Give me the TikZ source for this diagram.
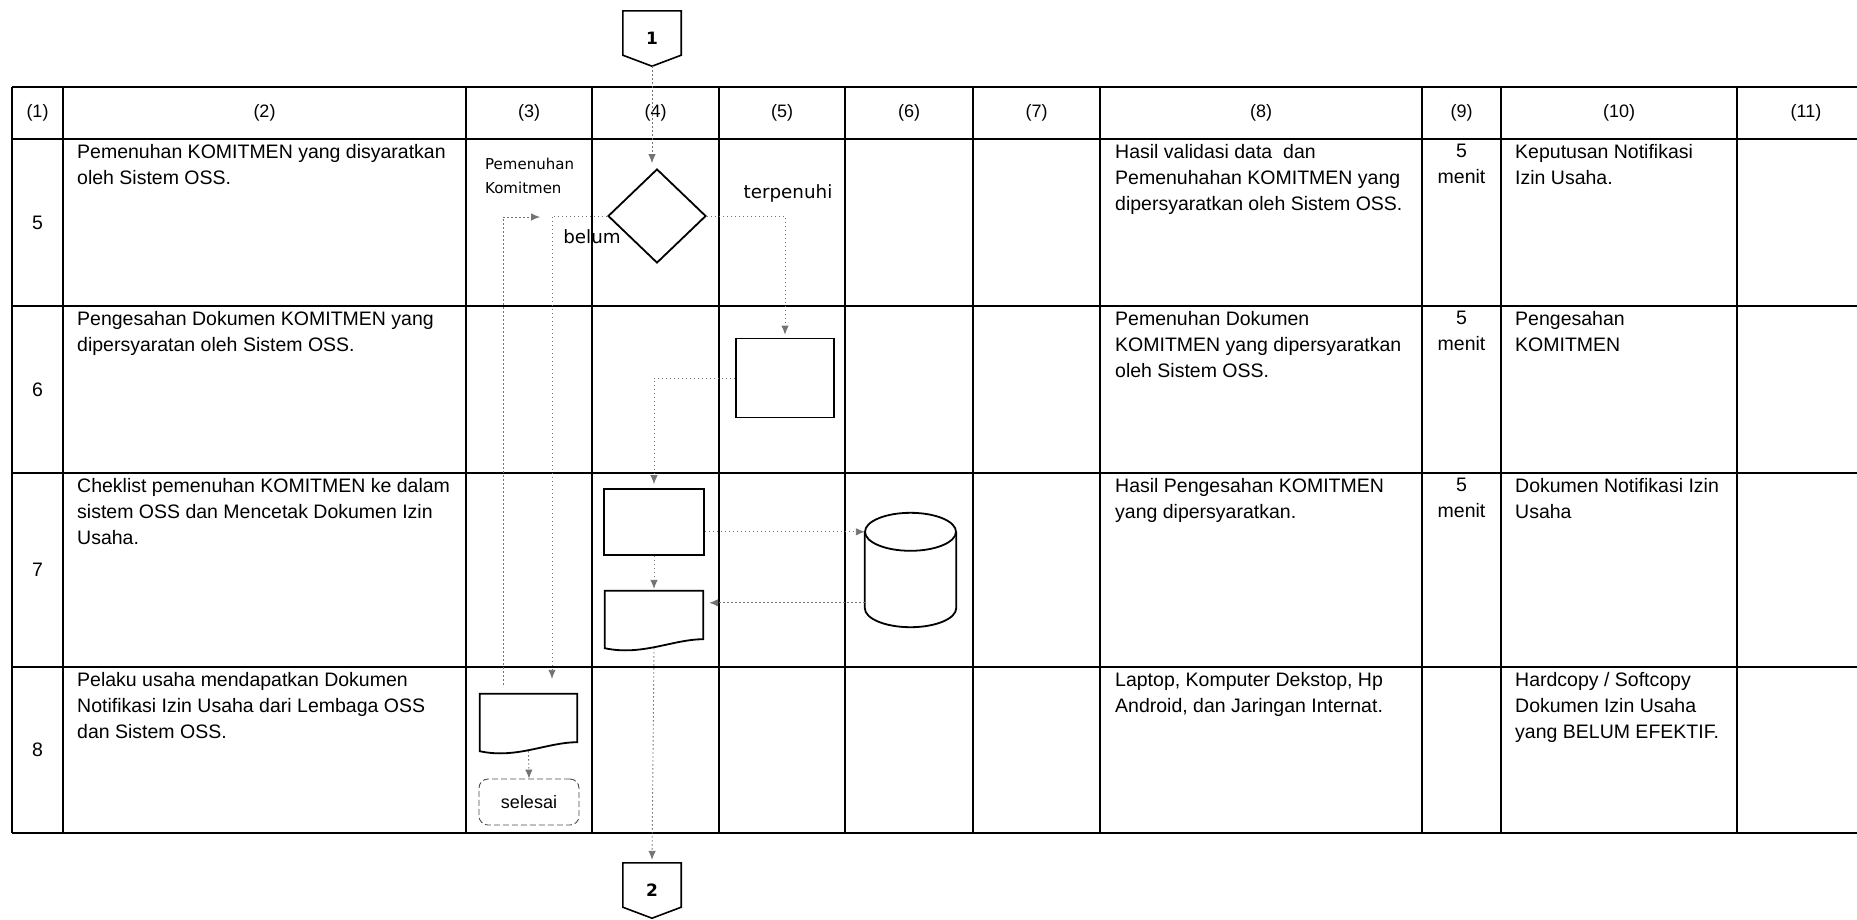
\documentclass[tikz,border=0pt]{standalone}
\usepackage{fontspec}
\setmainfont{Liberation Sans}
\newfontfamily\dvfont{DejaVu Sans}
\usetikzlibrary{arrows.meta,shapes.geometric}

\newcommand{\tabfont}{\fontsize{19.5}{26}\selectfont}
\newcommand{\docshape}[1]{%
  \draw[boxline] (#1.south west) -- (#1.north west) -- (#1.north east)
    -- ([yshift=9pt]#1.south east)
    .. controls ([xshift=-30pt,yshift=9pt]#1.south east) and ([xshift=-12pt,yshift=-8pt]#1.south)
    .. (#1.south west) -- cycle;}

\tikzset{
  tabrule/.style={line width=1.4pt},
  boxline/.style={line width=1.8pt},
  box/.style={draw, boxline, inner sep=0pt},
  slot/.style={inner sep=0pt},
  offpage/.style={slot, minimum width=58pt, minimum height=55pt,
    font=\dvfont\bfseries\fontsize{17}{17}\selectfont},
  flow/.style={draw=black!55, line width=0.9pt, dash pattern=on 1.5pt off 2.5pt,
    -{Latex[length=9pt,width=7.5pt]}},
  celltext/.style={anchor=north west, align=left, inner sep=0pt, font=\tabfont,
    execute at begin node=\strut},
  menit/.style={anchor=north, align=center, inner sep=0pt, font=\tabfont,
    execute at begin node=\strut},
  flowlabel/.style={font=\dvfont\fontsize{18.3}{20}\selectfont},
}

\begin{document}
\begin{tikzpicture}[x=1pt,y=-1pt]
\useasboundingbox (0,0) rectangle (1857,919);
% Table grid
\foreach \y in {87,139,306,473,667,833}
  \draw[tabrule] (12,\y) -- (1857,\y);
\foreach \x in {12,63,466,592,719,845,973,1100,1422,1501,1737}
  \draw[tabrule] (\x,87) -- (\x,833);
% Column numbers
\foreach \x/\n in {37.5/1,264.5/2,529/3,655.5/4,782/5,909/6,1036.5/7,1261/8,1461.5/9,1619/10,1806/11}
  \node[font=\fontsize{18}{20}\selectfont] (h\n) at (\x,113) {(\n)};
% Step numbers
\foreach \y/\n in {222.5/5,389.5/6,570/7,750/8}
  \node[font=\tabfont] (no\n) at (37.5,\y) {\n};

% Activities (2)
\node[celltext] (act5) at (77,144) {Pemenuhan KOMITMEN yang disyaratkan\\oleh Sistem OSS.};
\node[celltext] (act6) at (77,311) {Pengesahan Dokumen KOMITMEN yang\\dipersyaratan oleh Sistem OSS.};
\node[celltext] (act7) at (77,478) {Cheklist pemenuhan KOMITMEN ke dalam\\sistem OSS dan Mencetak Dokumen Izin\\Usaha.};
\node[celltext] (act8) at (77,672) {Pelaku usaha mendapatkan Dokumen\\Notifikasi Izin Usaha dari Lembaga OSS\\dan Sistem OSS.};

% Requirements (8)
\node[celltext] (req5) at (1115,144) {Hasil validasi data\ \ dan\\Pemenuhahan KOMITMEN yang\\dipersyaratkan oleh Sistem OSS.};
\node[celltext] (req6) at (1115,311) {Pemenuhan Dokumen\\KOMITMEN yang dipersyaratkan\\oleh Sistem OSS.};
\node[celltext] (req7) at (1115,478) {Hasil Pengesahan KOMITMEN\\yang dipersyaratkan.};
\node[celltext] (req8) at (1115,672) {Laptop, Komputer Dekstop, Hp\\Android, dan Jaringan Internat.};

% Time (9)
\foreach \y/\r in {144/5,311/6,478/7}
  \node[menit] (time\r) at (1461.5,\y) {5\\menit};

% Output (10)
\node[celltext] (out5) at (1515,144) {Keputusan Notifikasi\\Izin Usaha.};
\node[celltext] (out6) at (1515,311) {Pengesahan\\KOMITMEN};
\node[celltext] (out7) at (1515,478) {Dokumen Notifikasi Izin\\Usaha};
\node[celltext] (out8) at (1515,672) {Hardcopy / Softcopy\\Dokumen Izin Usaha\\yang BELUM EFEKTIF.};

% Flowchart symbols
\node[offpage] (off1) at (652,38.5) {1};
\node[offpage] (off2) at (652,890.5) {2};
\node[box, diamond, minimum width=98pt, minimum height=94pt] (cek) at (657,216) {};
\node[box, minimum width=98pt, minimum height=79pt] (sah) at (785,378) {};
\node[box, minimum width=100pt, minimum height=66pt] (ceklist) at (654,522) {};
\node[slot, minimum width=98pt, minimum height=57pt] (cetak) at (654,619.5) {};
\node[slot, minimum width=97pt, minimum height=57pt] (terima) at (528.5,722.5) {};
\node[draw=black!70, line width=0.9pt, dash pattern=on 6pt off 3pt, rounded corners=9pt,
  minimum width=100pt, minimum height=46pt, font=\fontsize{18}{20}\selectfont] (selesai) at (529,802) {selesai};
\node[slot, minimum width=91pt, minimum height=114pt] (oss) at (910.5,570) {};

\foreach \n in {off1,off2}
  \draw[line width=1.6pt] (\n.north west) -- (\n.north east) -- ([yshift=11pt]\n.south east)
    -- (\n.south) -- ([yshift=11pt]\n.south west) -- cycle;
\docshape{cetak}
\docshape{terima}
% database
\draw[boxline] ([yshift=-19pt]oss.north) ellipse [x radius=45.5pt, y radius=19pt];
\draw[boxline] ([yshift=-19pt]oss.north west) -- ([yshift=19pt]oss.south west)
  .. controls ([yshift=8.5pt]oss.south west) and ([xshift=-25pt]oss.south) .. (oss.south)
  .. controls ([xshift=25pt]oss.south) and ([yshift=8.5pt]oss.south east) .. ([yshift=19pt]oss.south east)
  -- ([yshift=-19pt]oss.north east);

\coordinate (ossin) at ([yshift=-19pt]oss.north west);
\coordinate (ossout) at ([yshift=-90pt]oss.north west);
\coordinate (balik) at (540,217);

% Labels
\node[flowlabel] (ya) at (788,193) {terpenuhi};
\node[flowlabel] (tidak) at (592,237) {belum};
\node[anchor=north west, align=left, inner sep=0pt, font=\dvfont\fontsize{15}{24}\selectfont] (kom) at (485,157.5) {Pemenuhan\\Komitmen};

% Flow lines
\draw[flow, shorten >=5pt] (off1.south) -- (off1.south |- cek.north);
\draw[flow, shorten >=3pt] (cek.east) -| (sah.north);
\draw[flow, shorten >=4pt] (sah.west) -| (ceklist.north);
\draw[flow] (ceklist.east |- ossin) -- (ossin);
\draw[flow, shorten >=2pt] (ceklist.south) -- (cetak.north);
\draw[flow, shorten >=6pt] (ossout) -- (cetak.east |- ossout);
\draw[flow, shorten >=3pt] (cetak.south) -- (off2.north);
\draw[flow, shorten >=15pt] (cek.west) -| ([xshift=23.5pt]terima.north);
\draw[flow] ([xshift=-25.5pt,yshift=9pt]terima.north) |- (balik);
\draw[flow] (terima.south) -- (selesai.north);
\end{tikzpicture}
\end{document}
